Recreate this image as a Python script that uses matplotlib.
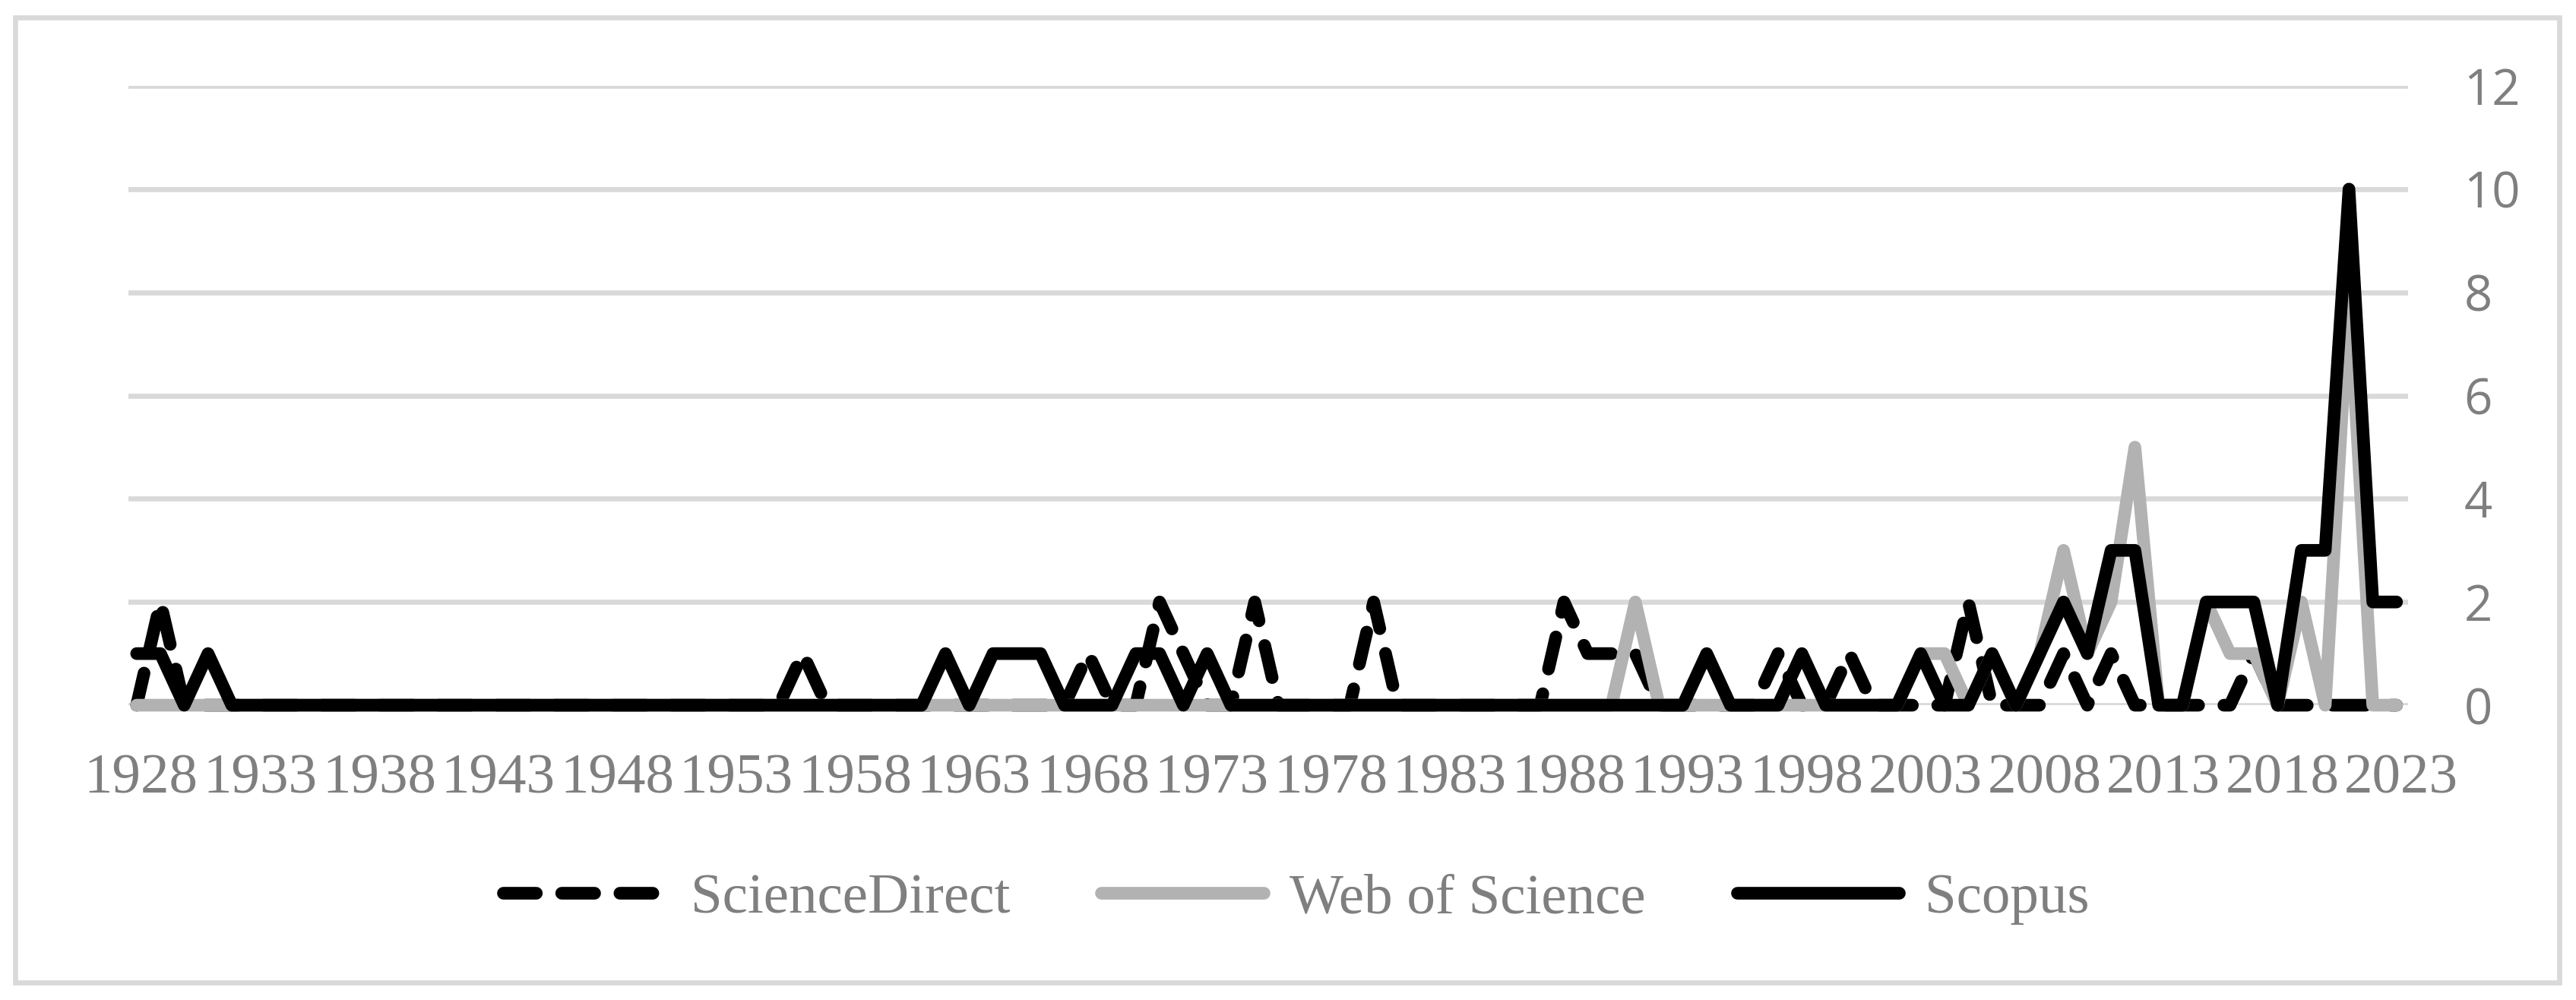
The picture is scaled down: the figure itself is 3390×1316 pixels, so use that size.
import matplotlib
matplotlib.use('Agg')
from matplotlib import pyplot as plt
from matplotlib import transforms
from matplotlib.patches import Rectangle

# publications per year, 1928 .. 2023 (one row = ten years)
years = list(range(1928, 2024))

science_direct = [
    0, 2, 0, 0, 0, 0, 0, 0, 0, 0,   # 1928
    0, 0, 0, 0, 0, 0, 0, 0, 0, 0,   # 1938
    0, 0, 0, 0, 0, 0, 0, 0, 1, 0,   # 1948
    0, 0, 0, 0, 0, 0, 0, 0, 0, 0,   # 1958
    1, 0, 0, 2, 1, 0, 0, 2, 0, 0,   # 1968
    0, 0, 2, 0, 0, 0, 0, 0, 0, 0,   # 1978
    2, 1, 1, 1, 0, 0, 0, 0, 0, 1,   # 1988
    0, 0, 1, 0, 0, 0, 0, 2, 0, 0,   # 1998
    0, 1, 0, 1, 0, 0, 0, 0, 0, 1,   # 2008
    0, 0, 0, 0, 0, 0,               # 2018
]

web_of_science = [
    0, 0, 0, 0, 0, 0, 0, 0, 0, 0,
    0, 0, 0, 0, 0, 0, 0, 0, 0, 0,
    0, 0, 0, 0, 0, 0, 0, 0, 0, 0,
    0, 0, 0, 0, 0, 0, 0, 0, 0, 0,
    0, 0, 0, 0, 0, 0, 0, 0, 0, 0,
    0, 0, 0, 0, 0, 0, 0, 0, 0, 0,
    0, 0, 0, 2, 0, 0, 0, 0, 0, 0,
    0, 0, 0, 0, 0, 1, 1, 0, 1, 0,
    1, 3, 1, 2, 5, 0, 0, 2, 1, 1,
    0, 2, 0, 8, 0, 0,
]

scopus = [
    1, 1, 0, 1, 0, 0, 0, 0, 0, 0,
    0, 0, 0, 0, 0, 0, 0, 0, 0, 0,
    0, 0, 0, 0, 0, 0, 0, 0, 0, 0,
    0, 0, 0, 0, 1, 0, 1, 1, 1, 0,
    0, 0, 1, 1, 0, 1, 0, 0, 0, 0,
    0, 0, 0, 0, 0, 0, 0, 0, 0, 0,
    0, 0, 0, 0, 0, 0, 1, 0, 0, 0,
    1, 0, 0, 0, 0, 1, 0, 0, 1, 0,
    1, 2, 1, 3, 3, 0, 0, 2, 2, 2,
    0, 3, 3, 10, 2, 2,
]

x_ticks = list(range(1928, 2024, 5))
y_ticks = [0, 2, 4, 6, 8, 10, 12]

TEXT_GREY = '#7f7f7f'
GRID_GREY = '#d9d9d9'


def draw_chart():
    fig = plt.figure(figsize=(33.91, 13.16), dpi=100)
    ax = fig.add_axes([0.0498, 0.2948, 0.8847, 0.6193])

    style = dict(lw=12, clip_on=False,
                 solid_joinstyle='round', solid_capstyle='round',
                 dash_joinstyle='round', dash_capstyle='round')
    ax.plot(years, science_direct, color='black',
            linestyle=(0, (2.6, 2.0)), label='ScienceDirect', **style)
    ax.plot(years, web_of_science, color='#b2b2b2',
            label='Web of Science', **style)
    ax.plot(years, scopus, color='black', label='Scopus', **style)

    ax.set_xlim(1927.65, 2023.48)
    ax.set_ylim(0, 12)
    ax.set_xticks(x_ticks)
    ax.set_xticklabels([str(y) for y in x_ticks])
    ax.set_yticks(y_ticks)
    ax.yaxis.tick_right()

    ax.yaxis.grid(True, color=GRID_GREY, lw=4.8)
    ax.set_axisbelow(True)
    for sp in ax.spines.values():
        sp.set_visible(False)

    ax.tick_params(axis='x', length=0, pad=46, labelsize=54,
                   labelcolor=TEXT_GREY)
    ax.tick_params(axis='y', length=0, pad=53, labelsize=47,
                   labelcolor=TEXT_GREY)
    shift = transforms.ScaledTranslation(6 / 100, 0, fig.dpi_scale_trans)
    for lab in ax.get_xticklabels():
        lab.set_family('Liberation Serif')
        lab.set_transform(lab.get_transform() + shift)
    for lab in ax.get_yticklabels():
        lab.set_family('Open Sans')

    leg = fig.legend(loc='center', bbox_to_anchor=(0.503, 0.101), ncol=3,
                     frameon=False, handlelength=2.85, handletextpad=0.45,
                     columnspacing=1.6,
                     prop={'family': 'Liberation Serif', 'size': 54})
    for t in leg.get_texts():
        t.set_color(TEXT_GREY)

    # light frame round the whole chart
    fig.patches.append(Rectangle((0.0059, 0.0175), 0.9873, 0.965,
                                 transform=fig.transFigure, fill=False,
                                 edgecolor=GRID_GREY, lw=4.8))

    fig.savefig('out.png', dpi=100, facecolor='white')


def main():
    draw_chart()


if __name__ == '__main__':
    main()
